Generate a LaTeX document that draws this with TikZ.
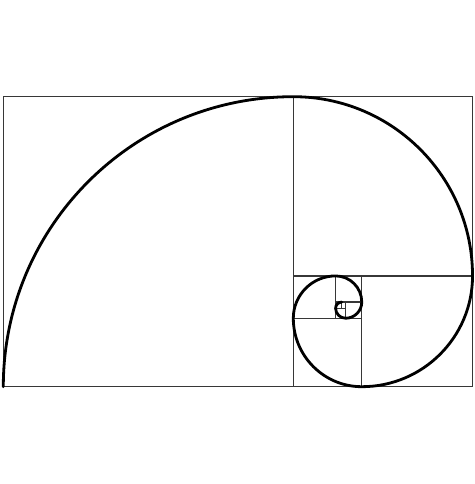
\documentclass[tikz,border=0pt]{standalone}
\usepackage{tikz}
\usetikzlibrary{calc}

\definecolor{framegray}{RGB}{55,55,55}

\begin{document}
\begin{tikzpicture}
  [x=1pt, y=1pt, line width=1.3pt, >=stealth]

\useasboundingbox (0,0) rectangle (474,484);

\begin{scope}[shift={(3.3,97.3)}]
\draw[draw=framegray] (0,0) rectangle (469.23,290);
\draw[draw=framegray] (290,0) -- (290,290);
\draw[draw=framegray] (290,110.77) -- (469.23,110.77);
\draw[draw=framegray] (358.46,0) -- (358.46,110.77);
\draw[draw=framegray] (290,68.46) -- (358.46,68.46);
\draw[draw=framegray] (332.31,68.46) -- (332.31,110.77);
\draw[draw=framegray] (332.31,84.62) -- (358.46,84.62);
\draw[draw=framegray] (342.30,68.46) -- (342.30,84.62);
\draw[draw=framegray] (332.31,78.45) -- (342.30,78.45);
\draw[draw=framegray] (338.48,78.45) -- (338.48,84.62);

\draw[draw=black,line width=2.8pt,line cap=round]
  (0,0) arc[start angle=180,end angle=90,radius=290]
  arc[start angle=90,end angle=0,radius=179.23]
  arc[start angle=0,end angle=-90,radius=110.77]
  arc[start angle=270,end angle=180,radius=68.46]
  arc[start angle=180,end angle=90,radius=42.31]
  arc[start angle=90,end angle=0,radius=26.15]
  arc[start angle=0,end angle=-90,radius=16.16]
  arc[start angle=270,end angle=180,radius=9.99]
  arc[start angle=180,end angle=90,radius=6.17];
\end{scope}
\end{tikzpicture}
\end{document}
